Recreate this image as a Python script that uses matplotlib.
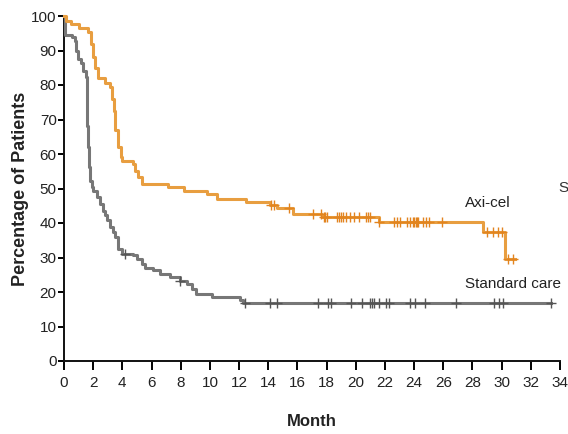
import numpy as np
import matplotlib
matplotlib.use("Agg")
import matplotlib.pyplot as plt

plt.rcParams['font.family'] = ['Liberation Sans Narrow', 'Liberation Sans', 'DejaVu Sans']

# Kaplan-Meier step curves (month, percentage of patients)
axi_t = [0, 0.15, 0.5, 1.05, 1.65, 1.85, 2.0, 2.15, 2.35, 2.8, 3.15, 3.3, 3.42, 3.53,
         3.7, 3.88, 4.0, 4.7, 4.9, 5.1, 5.35, 7.1, 8.2, 9.8, 10.5, 12.5, 14.1, 14.6,
         15.7, 17.7, 21.6, 28.7, 30.2, 30.9]
axi_s = [100, 98.6, 97.6, 96.4, 95.4, 92, 88, 85, 82, 80.5, 79.5, 76, 72.6, 66.9,
         62, 59.1, 58.1, 57, 55.2, 53.3, 51.2, 50.4, 49.4, 48.4, 47.0, 46.0, 45.3, 44.3,
         42.7, 41.7, 40.3, 37.4, 29.7, 29.7]
axi_cens = [14.2, 14.4, 15.4, 17.1, 17.65, 17.8, 17.9, 18.0, 18.7, 18.85, 19.0, 19.15,
            19.3, 19.6, 19.9, 20.2, 20.7, 20.85, 21.0, 21.6, 22.65, 22.8, 23.0, 23.5,
            23.7, 23.9, 24.0, 24.1, 24.2, 24.3, 24.6, 24.8, 25.0, 25.9, 29.0, 29.4,
            29.75, 30.05, 30.45, 30.75]

soc_t = [0, 0.05, 0.52, 0.75, 0.85, 0.96, 1.14, 1.3, 1.48, 1.55, 1.6, 1.65, 1.72, 1.78,
         1.9, 2.01, 2.24, 2.47, 2.65, 2.81, 2.95, 3.15, 3.35, 3.5, 3.72, 3.95, 4.75,
         4.97, 5.32, 5.55, 6.12, 6.58, 7.26, 7.95, 8.4, 8.75, 9.05, 10.15, 12.05, 12.3,
         33.4]
soc_s = [100, 94.6, 94.0, 92.8, 90, 87.5, 86.5, 84.1, 82.2, 75, 68, 62, 56.2, 52.3,
         50.5, 49.4, 47.5, 45.4, 43.6, 42.2, 40.8, 38.8, 37.3, 35.9, 32.4, 31.1, 30.6,
         29.7, 28.2, 27.1, 26.3, 25.3, 24.4, 23.2, 22.2, 20.8, 19.4, 18.6, 17.8, 16.7,
         16.7]
soc_cens = [4.18, 7.95, 12.4, 14.1, 14.6, 17.4, 18.1, 18.3, 19.65, 20.45, 21.0, 21.1,
            21.25, 21.6, 22.1, 22.3, 23.75, 24.05, 24.75, 26.9, 29.5, 29.8, 30.1, 33.4]

orange = '#E89E40'
orange_mark = '#E2841F'
gray = '#777777'
gray_mark = '#555555'


def step_value(t, s, x):
    idx = np.searchsorted(t, x, side='right') - 1
    return np.asarray(s)[idx]


fig = plt.figure(figsize=(5.68, 4.34), dpi=100)
ax = fig.add_axes([64 / 568, 1 - 361 / 434, 496 / 568, 345 / 434])

ax.step(soc_t, soc_s, where='post', color=gray, lw=2.2, clip_on=False, zorder=3)
ax.step(axi_t, axi_s, where='post', color=orange, lw=2.2, clip_on=False, zorder=4)

ax.plot(soc_cens, step_value(soc_t, soc_s, soc_cens), ls='none', marker='+',
        ms=7, mew=1.0, color=gray_mark, clip_on=False, zorder=5)
ax.plot(axi_cens, step_value(axi_t, axi_s, axi_cens), ls='none', marker='+',
        ms=7, mew=1.0, color=orange_mark, clip_on=False, zorder=6)

ax.text(27.5, 45.7, 'Axi-cel', fontsize=11, color='#222222', ha='left', va='center')
ax.text(27.5, 22.3, 'Standard care', fontsize=11, color='#222222', ha='left', va='center')

ax.set_xlim(0, 34)
ax.set_ylim(0, 100)
ax.set_xticks(np.arange(0, 35, 2))
ax.set_yticks(np.arange(0, 101, 10))
ax.spines['top'].set_visible(False)
ax.spines['right'].set_visible(False)
for sp in ('left', 'bottom'):
    ax.spines[sp].set_linewidth(1.4)
    ax.spines[sp].set_color('#111111')
ax.tick_params(axis='y', direction='out', length=4.3, width=1.4, pad=1,
               labelsize=11, labelcolor='#222222')
ax.tick_params(axis='x', direction='out', length=6.5, width=1.4, pad=4,
               labelsize=11, labelcolor='#222222')

ax.set_xlabel('Month', fontsize=12, fontweight='bold', color='#222222')
ax.xaxis.set_label_coords(0.5, -0.155)
ax.set_ylabel('Percentage of Patients', fontsize=13, fontweight='bold',
              family=['Liberation Sans', 'DejaVu Sans'], color='#222222')
ax.yaxis.set_label_coords(-0.07, 0.5)

fig.text(558 / 568, 1 - 188 / 434, 'S', fontsize=11, color='#333333',
         ha='left', va='center')

fig.savefig('out.png', dpi=100)
